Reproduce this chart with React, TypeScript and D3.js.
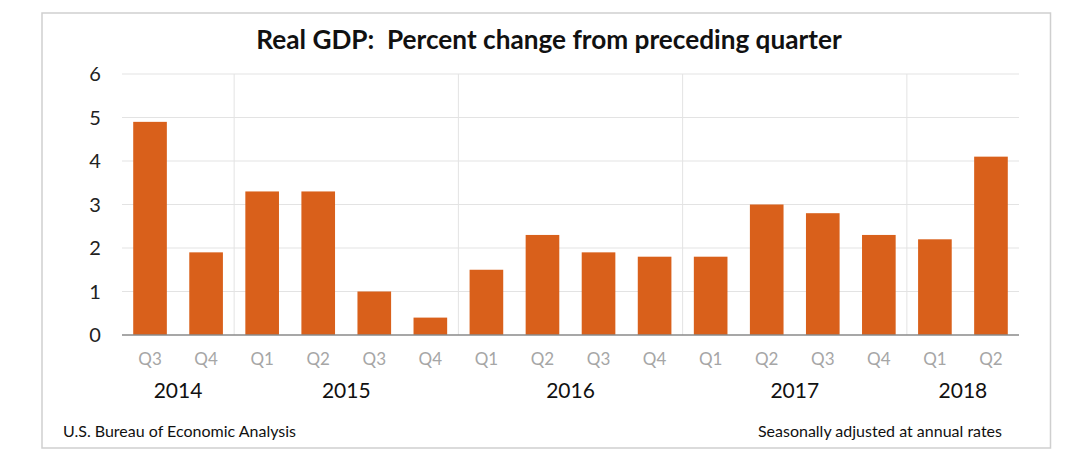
import React from "react";
import * as d3 from "d3";

const quarters = ["Q3","Q4","Q1","Q2","Q3","Q4","Q1","Q2","Q3","Q4","Q1","Q2","Q3","Q4","Q1","Q2"];
const yearsOf = [2014,2014,2015,2015,2015,2015,2016,2016,2016,2016,2017,2017,2017,2017,2018,2018];
const values = [4.9,1.9,3.3,3.3,1.0,0.4,1.5,2.3,1.9,1.8,1.8,3.0,2.8,2.3,2.2,4.1];
const yTicks = [0,1,2,3,4,5,6];
const yearLabels = [2014,2015,2016,2017,2018];
const title = "Real GDP:  Percent change from preceding quarter";
const sourceNote = "U.S. Bureau of Economic Analysis";
const rateNote = "Seasonally adjusted at annual rates";

export default function App() {
  const W = 1080, H = 460;
  const ids = quarters.map((q, i) => `${yearsOf[i]}-${q}-${i}`);
  const x = d3.scaleBand<string>().domain(ids).range([122, 1019]).paddingInner(0.4).paddingOuter(0.2);
  const y = d3.scaleLinear().domain([0, 6]).range([335, 74]);
  const step = x.step();
  const left = 122;
  const bandStart = (i: number) => left + i * step;

  const seps: number[] = [];
  for (let i = 1; i < yearsOf.length; i++) if (yearsOf[i] !== yearsOf[i - 1]) seps.push(bandStart(i));

  const yearCenters = yearLabels.map((yr) => {
    const idx = yearsOf.map((v, i) => (v === yr ? i : -1)).filter((i) => i >= 0);
    return (bandStart(idx[0]) + bandStart(idx[idx.length - 1] + 1)) / 2;
  });

  const font = "Lato, 'Open Sans', sans-serif";

  return (
    <svg width={W} height={H} style={{ position: "absolute", left: 0, top: 0 }} fontFamily={font}>
      <rect x={0} y={0} width={W} height={H} fill="#fff" />
      <rect x={42} y={13} width={1008.5} height={435} fill="#fff" stroke="#cfcfcf" strokeWidth={1.5} />
      <text x={549} y={49} textAnchor="middle" fontSize={26.2} fontWeight={700} fill="#111" style={{ whiteSpace: "pre" }}>{title}</text>
      {yTicks.map((t) => (
        <g key={t}>
          {t > 0 && <line x1={122} x2={1019} y1={y(t)} y2={y(t)} stroke="#e3e3e3" strokeWidth={1} />}
          <text x={95} y={y(t)} dy="0.36em" textAnchor="middle" fontSize={20} fill="#222">{t}</text>
        </g>
      ))}
      {seps.map((s, i) => (
        <line key={i} x1={s} x2={s} y1={y(6)} y2={y(0)} stroke="#e3e3e3" strokeWidth={1} />
      ))}
      {values.map((v, i) => (
        <rect key={i} x={x(ids[i])} y={y(v)} width={x.bandwidth()} height={y(0) - y(v)} fill="#D9601B" />
      ))}
      <line x1={122} x2={1019} y1={y(0)} y2={y(0)} stroke="#8a8a8a" strokeWidth={1.5} />
      {quarters.map((q, i) => (
        <text key={i} x={(x(ids[i]) as number) + x.bandwidth() / 2} y={365} textAnchor="middle" fontSize={17} fill="#a6a6a6">{q}</text>
      ))}
      {yearLabels.map((yr, i) => (
        <text key={yr} x={yearCenters[i]} y={398} textAnchor="middle" fontSize={21} fill="#111">{yr}</text>
      ))}
      <text x={63} y={437} fontSize={16} fill="#111">{sourceNote}</text>
      <text x={1002} y={437} textAnchor="end" fontSize={16} fill="#111">{rateNote}</text>
    </svg>
  );
}
